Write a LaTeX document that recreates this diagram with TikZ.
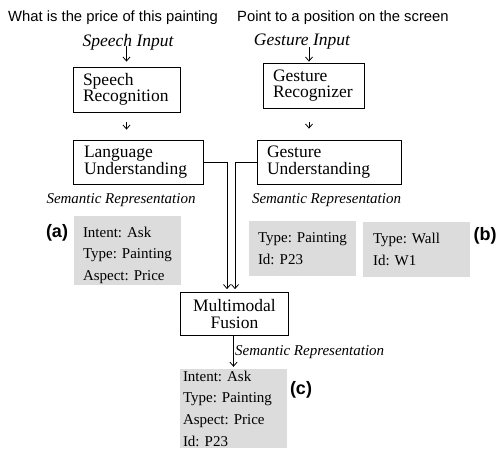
\documentclass[tikz,border=0pt]{standalone}
\usepackage{fontspec}
\setmainfont{Liberation Serif}
\setsansfont{Liberation Sans}
\usetikzlibrary{arrows.meta,calc}
\definecolor{grayfill}{RGB}{220,220,220}
\frenchspacing
\newcommand{\pd}[1]{\hspace*{#1pt}}
\begin{document}
\begin{tikzpicture}[x=1pt,y=-1pt,
  box/.style={draw, line width=0.8pt, inner sep=0pt, align=left, font=\fontsize{17.5}{16.5}\selectfont},
  cbox/.style={draw, line width=0.8pt, inner sep=0pt, align=center, font=\fontsize{17.5}{16.5}\selectfont},
  gbox/.style={fill=grayfill, inner sep=0pt, align=left, font=\fontsize{15}{21.7}\selectfont},
  inlabel/.style={inner sep=0pt, font=\fontsize{17.5}{20}\selectfont\itshape},
  semlabel/.style={inner sep=0pt, font=\fontsize{15}{18}\selectfont\itshape},
  toplabel/.style={inner sep=0pt, font=\fontsize{14.8}{17}\sffamily},
  tag/.style={inner sep=0pt, font=\fontsize{18}{20}\sffamily\bfseries},
  arr/.style={line width=0.8pt, -{Straight Barb[length=4pt,width=7pt]}}
]
\useasboundingbox (0,0) rectangle (500,448);

% top texts
\node[toplabel, anchor=west] (q1) at (8,18) {What is the price of this painting};
\node[toplabel, anchor=west] (q2) at (237,18) {Point to a position on the screen};

% input labels
\node[inlabel] (SI) at (128,42) {Speech Input};
\node[inlabel] (GI) at (302,42) {Gesture Input};

% boxes
\node[box, minimum width=107, minimum height=45, text width=107] (SR) at (126.5,89.5) {\pd{10}Speech\\\pd{10}Recognition};
\node[box, minimum width=101, minimum height=45, text width=101] (GR) at (313.5,85.5) {\pd{10}Gesture\\\pd{10}Recognizer};
\node[box, minimum width=130, minimum height=44, text width=130] (LU) at (138,162) {\pd{11}Language\\\pd{11}Understanding};
\node[box, minimum width=144, minimum height=44, text width=144] (GU) at (329,162) {\pd{10}Gesture\\\pd{10}Understanding};
\node[cbox, minimum width=108, minimum height=43] (MF) at (234.5,314) {Multimodal\\Fusion};

% semantic labels
\node[semlabel] (SL1) at (121,200) {Semantic Representation};
\node[semlabel] (SL2) at (326.5,200) {Semantic Representation};
\node[semlabel, anchor=west] (SL3) at (235,352) {Semantic Representation};

% grey boxes
\node[gbox, minimum width=107, minimum height=69, text width=107] (A) at (127.5,250.5) {\pd{9}\rule{0pt}{20pt}Intent: Ask\\\pd{9}Type: Painting\\\pd{9}Aspect: Price};
\node[gbox, minimum width=107, minimum height=55, text width=107] (B1) at (302.5,248.5) {\pd{9}Type: Painting\\\pd{9}Id: P23};
\node[gbox, minimum width=107, minimum height=55, text width=107] (B2) at (416.5,249.5) {\pd{10}Type: Wall\\\pd{10}Id: W1};
\node[gbox, minimum width=107, minimum height=79, text width=107] (C) at (233.5,408.5) {\pd{3}Intent: Ask\\\pd{3}Type: Painting\\\pd{3}Aspect: Price\\\pd{3}Id: P23};

% tags
\node[tag] (ta) at (57,233) {(a)};
\node[tag] (tb) at (485,236) {(b)};
\node[tag] (tc) at (301,390) {(c)};

% arrows
\draw[arr] ([yshift=-4pt]SR.north |- SI.center) -- ([yshift=5pt]SR.north);
\draw[arr] ([xshift=-4.5pt,yshift=-5pt]GR.north |- GI.center) -- ([xshift=-4.5pt,yshift=1pt]GR.north);
\draw[arr, shorten <=10pt, shorten >=10pt] (SR.south) -- (SR.south |- LU.north);
\draw[arr, shorten <=14pt, shorten >=11pt] ([xshift=-4.5pt]GR.south) -- ([xshift=-4.5pt]GR.south |- GU.north);
\draw[arr] (LU.east) -| ([xshift=-7.5pt,yshift=3pt]MF.north);
\draw[arr] (GU.west) -| ([xshift=0.5pt,yshift=3pt]MF.north);
\draw[arr, shorten >=2pt] ([xshift=-1pt]MF.south) -- ([xshift=-1pt]MF.south |- C.north);
\end{tikzpicture}
\end{document}
